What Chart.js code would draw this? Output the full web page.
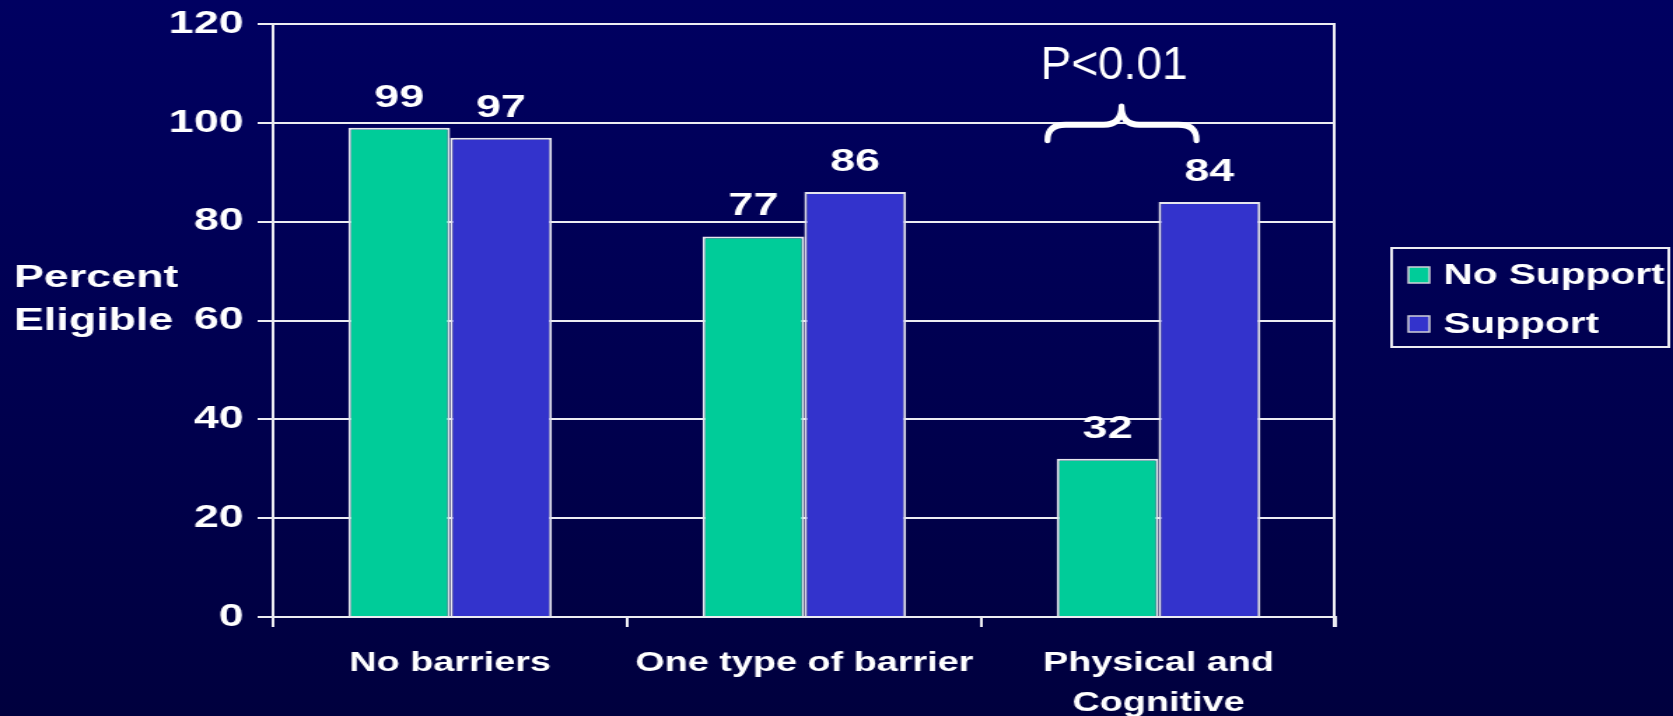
<!DOCTYPE html>
<html>
<head>
<meta charset="utf-8">
<script src="https://cdn.jsdelivr.net/npm/chart.js@4"></script>
<style>
  html, body {
    margin: 0;
    padding: 0;
    width: 1673px;
    height: 716px;
    overflow: hidden;
    background: linear-gradient(to bottom, #000061 0%, #00004f 55%, #00003e 100%);
  }
  /* the source picture is stretched sideways, so the chart is drawn narrow and widened */
  #wrap {
    position: absolute;
    left: 0;
    top: 0;
    width: 1195px;
    height: 716px;
    transform: scaleX(1.4);
    transform-origin: 0 0;
  }
</style>
</head>
<body>
<div id="wrap"><canvas id="chart"></canvas></div>
<script>
// data
const categories = ['No barriers', 'One type of barrier', ['Physical and', 'Cognitive']];
const seriesNames = ['No Support', 'Support'];
const noSupport = [99, 77, 32];
const support = [97, 86, 84];
const yTicks = [0, 20, 40, 60, 80, 100, 120];
const axisTitle = ['Percent', 'Eligible'];
const pValueText = 'P<0.01';

const STRETCH = 1.4;
const FONT = '"Liberation Sans", Arial, sans-serif';
const GREEN = '#00cc99';
const BLUE = '#3333cc';
const LINE = '#ececf2';

// value labels, y title, right border, legend, brace
const extrasPlugin = {
    id: 'extras',
    afterDraw(chart) {
        const ctx = chart.ctx;
        const area = chart.chartArea;
        const x = chart.scales.x;
        const y = chart.scales.y;

        ctx.save();

        // right border of the plot
        ctx.strokeStyle = LINE;
        ctx.lineWidth = 2;
        ctx.beginPath();
        ctx.moveTo(area.right - 1, area.top);
        ctx.lineTo(area.right - 1, area.bottom + 10);
        ctx.stroke();

        // values above bars
        ctx.fillStyle = '#ffffff';
        ctx.font = 'bold 32px ' + FONT;
        ctx.textAlign = 'center';
        ctx.textBaseline = 'alphabetic';
        chart.data.datasets.forEach(function(ds, i) {
            chart.getDatasetMeta(i).data.forEach(function(bar, j) {
                ctx.fillText(String(ds.data[j]), bar.x, bar.y - 21);
            });
        });

        // y axis title, written flat
        ctx.textAlign = 'left';
        ctx.font = 'bold 32px ' + FONT;
        ctx.fillText(axisTitle[0], 10, 287);
        ctx.fillText(axisTitle[1], 10, 330);

        // legend
        const lx = 994, ly = 248, lw = 198, lh = 99;
        ctx.strokeStyle = LINE;
        ctx.lineWidth = 2;
        ctx.strokeRect(lx, ly, lw, lh);
        const colors = [GREEN, BLUE];
        const rows = [267, 316];
        ctx.font = 'bold 29px ' + FONT;
        seriesNames.forEach(function(name, i) {
            ctx.fillStyle = colors[i];
            ctx.fillRect(lx + 12, rows[i], 15, 16);
            ctx.strokeStyle = '#d0d0d8';
            ctx.lineWidth = 1.5;
            ctx.strokeRect(lx + 12, rows[i], 15, 16);
            ctx.fillStyle = '#ffffff';
            ctx.fillText(name, lx + 37, rows[i] + 17);
        });

        // significance brace over the third group, drawn in unstretched pixels
        const cx = x.getPixelForValue(2);
        const yEnd = y.getPixelForValue(96.5);
        const yMid = y.getPixelForValue(99.6);
        const yTop = y.getPixelForValue(103.3);
        ctx.translate(cx, 0);
        ctx.scale(1 / STRETCH, 1);
        ctx.strokeStyle = '#ffffff';
        ctx.lineWidth = 6;
        ctx.lineCap = 'round';
        ctx.lineJoin = 'round';
        ctx.beginPath();
        ctx.moveTo(-111, yEnd);
        ctx.quadraticCurveTo(-111, yMid, -93, yMid);
        ctx.lineTo(-55, yMid);
        ctx.quadraticCurveTo(-37, yMid, -37, yTop);
        ctx.quadraticCurveTo(-37, yMid, -19, yMid);
        ctx.lineTo(20, yMid);
        ctx.quadraticCurveTo(38, yMid, 38, yEnd);
        ctx.stroke();

        ctx.fillStyle = '#ffffff';
        ctx.font = '46px ' + FONT;
        ctx.textAlign = 'left';
        ctx.fillText(pValueText, -118, y.getPixelForValue(108.8));

        ctx.restore();
    }
};

const ctx = document.getElementById('chart').getContext('2d');
const chart = new Chart(ctx, {
    type: 'bar',
    data: {
        labels: categories,
        datasets: [{
            label: seriesNames[0],
            data: noSupport,
            backgroundColor: GREEN,
            borderColor: '#e6e6ee',
            borderWidth: 2
        }, {
            label: seriesNames[1],
            data: support,
            backgroundColor: BLUE,
            borderColor: '#e6e6ee',
            borderWidth: 2
        }]
    },
    options: {
        responsive: true,
        maintainAspectRatio: false,
        animation: false,
        devicePixelRatio: 1,
        categoryPercentage: 0.575,
        barPercentage: 1,
        layout: {
            padding: { left: 0, right: 241, top: 24, bottom: 0 }
        },
        plugins: {
            legend: { display: false },
            tooltip: { enabled: false }
        },
        scales: {
            x: {
                afterFit: function(scale) { scale.height = 99; },
                grid: {
                    offset: true,
                    drawOnChartArea: false,
                    drawTicks: true,
                    tickLength: 10,
                    color: LINE,
                    lineWidth: 2
                },
                border: { display: true, color: LINE, width: 2 },
                ticks: {
                    color: '#ffffff',
                    padding: 16,
                    autoSkip: false,
                    maxRotation: 0,
                    minRotation: 0,
                    font: { family: FONT, size: 27, weight: 'bold', lineHeight: 1.5 }
                }
            },
            y: {
                min: yTicks[0],
                max: yTicks[yTicks.length - 1],
                afterFit: function(scale) { scale.width = 195; },
                afterBuildTicks: function(scale) {
                    scale.ticks = yTicks.map(function(v) { return { value: v }; });
                },
                grid: {
                    color: LINE,
                    lineWidth: 2,
                    drawTicks: true,
                    tickLength: 11
                },
                border: { display: true, color: LINE, width: 2 },
                ticks: {
                    color: '#ffffff',
                    padding: 10,
                    font: { family: FONT, size: 32, weight: 'bold', lineHeight: 0.8 }
                }
            }
        }
    },
    plugins: [extrasPlugin]
});
</script>
</body>
</html>
